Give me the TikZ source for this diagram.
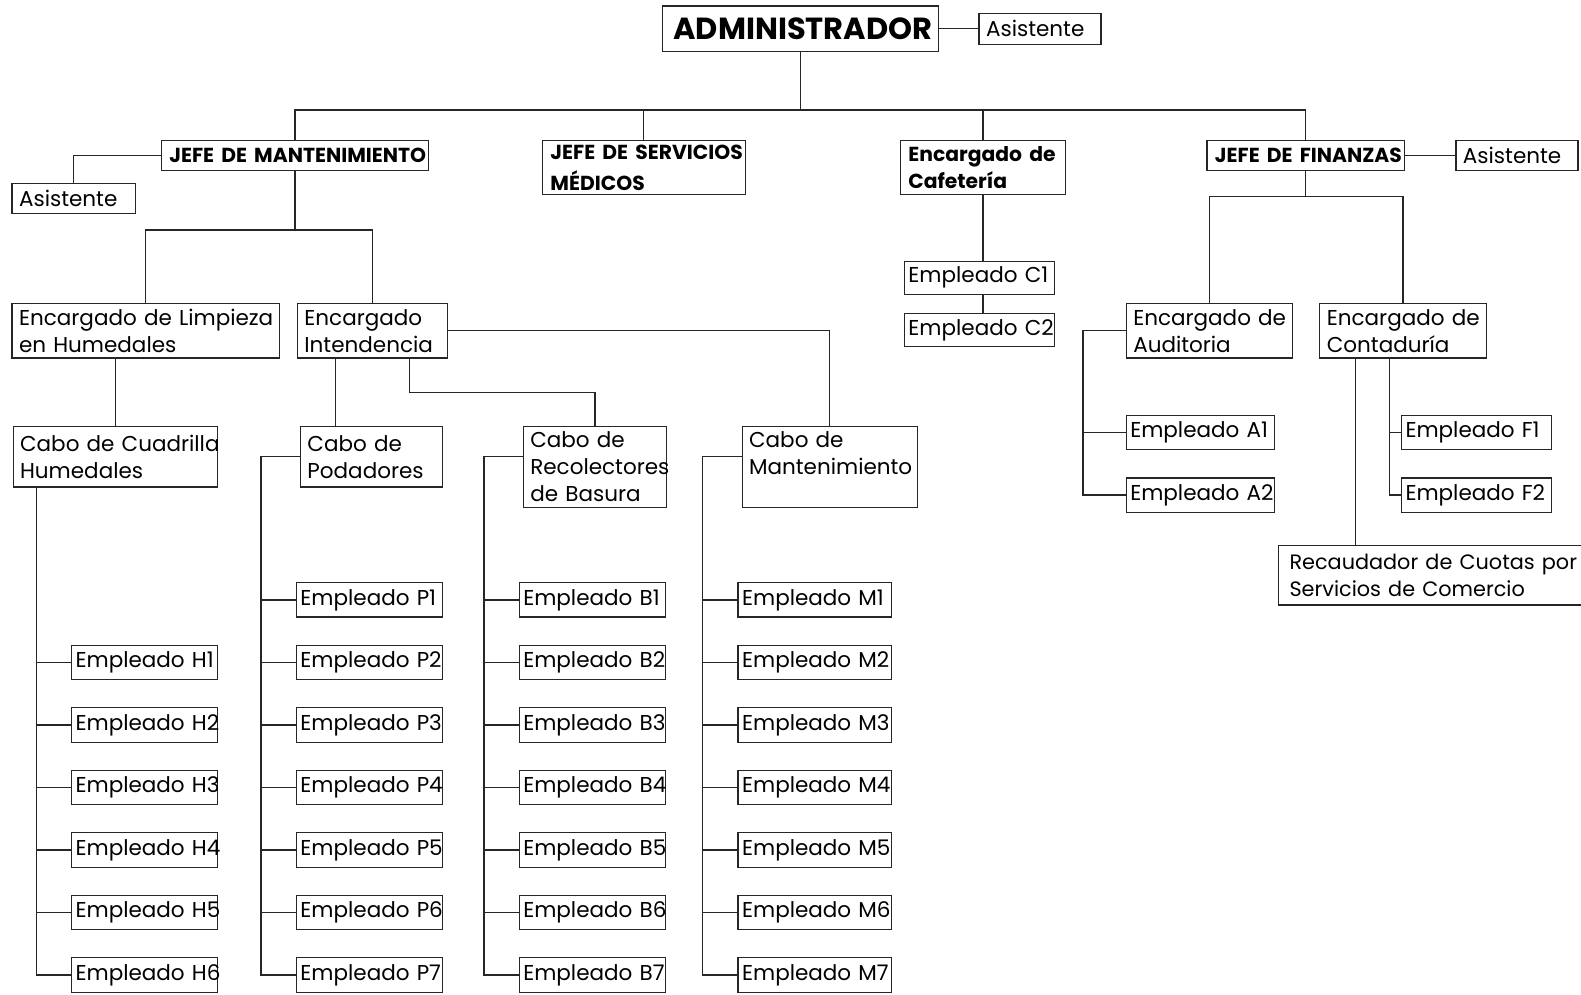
\documentclass[tikz,border=0pt]{standalone}
\usepackage{fontspec}
\setmainfont{Poppins}
\usetikzlibrary{calc}

\newcommand\unitscale{1.00829}
% \orgbox[padding]{name}{x1}{y1}{x2}{y2}{text}: a framed box given by its corners
\newcommand\orgbox[7][7]{%
  \pgfmathsetmacro\obw{(#5-#3)*\unitscale}%
  \pgfmathsetmacro\obh{(#6-#4)*\unitscale}%
  \pgfmathsetmacro\obt{\obw-2*#1}%
  \node[box,inner xsep=#1pt,minimum width=\obw pt,minimum height=\obh pt,
        text width=\obt pt] (#2) at ({(#3+#5)/2},{(#4+#6)/2}) {#7};}
% bold heading text
\newcommand\hd{\fontsize{20.3}{27}\selectfont\bfseries}

\tikzset{
  box/.style={draw=black!85,line width=1.2pt,fill=white,outer sep=0pt,
    inner ysep=0pt,align=left,font=\fontsize{21.5}{27}\selectfont},
  link/.style={draw=black!85,line width=1.3pt},
}

\begin{document}
\begin{tikzpicture}[x=1.00829pt,y=-1.00829pt]
\useasboundingbox (0,0) rectangle (1568,986);
\clip (0,0) rectangle (1568,986);
\fill[white] (0,0) rectangle (1568,986);

% top level
\orgbox[11]{admin}{657}{6}{931}{51}{\fontsize{30.5}{34}\selectfont\bfseries ADMINISTRADOR}
\orgbox{asisA}{971}{13}{1092}{44}{Asistente}

% heads
\orgbox[8]{jefeM}{160}{139}{425}{169}{\hd\mbox{JEFE DE MANTENIMIENTO}}
\orgbox{asisM}{12}{182}{134}{212}{Asistente}
\orgbox[8]{jefeS}{538}{139}{739}{193}{\fontsize{20.3}{31}\selectfont\bfseries\mbox{JEFE DE SERVICIOS}\\MÉDICOS\par}
\orgbox[8]{cafe}{893}{139}{1057}{193}{\hd\mbox{Encargado de}\\Cafetería}
\orgbox[8]{jefeF}{1197}{139}{1393}{169}{\hd\mbox{JEFE DE FINANZAS}}
\orgbox{asisF}{1444}{139}{1565}{169}{Asistente}

% maintenance branch
\orgbox{limp}{12}{301}{277}{355}{\mbox{Encargado de Limpieza}\\en Humedales}
\orgbox{inten}{295}{301}{444}{355}{Encargado\\Intendencia}
\orgbox{cuad}{13}{423}{216}{483}{\mbox{Cabo de Cuadrilla}\\Humedales}
\orgbox{poda}{298}{423}{439}{483}{Cabo de\\Podadores}
\orgbox{reco}{519}{423}{661}{503}{Cabo de\\Recolectores\\de Basura}
\orgbox{mant}{736}{423}{910}{503}{Cabo de\\Mantenimiento\\\mbox{}}

% employees
\foreach \k in {1,...,6}{
  \pgfmathsetmacro\ty{578+62*\k}
  \orgbox[4]{H\k}{71}{\ty}{216}{\ty+34}{\mbox{Empleado H\k}}
}
\foreach \k in {1,...,7}{
  \pgfmathsetmacro\ty{578+62*(\k-1)}
  \orgbox[4]{P\k}{294}{\ty}{439}{\ty+34}{\mbox{Empleado P\k}}
  \orgbox[4]{B\k}{515}{\ty}{660}{\ty+34}{\mbox{Empleado B\k}}
  \orgbox[4]{M\k}{732}{\ty}{884}{\ty+34}{\mbox{Empleado M\k}}
}

% cafeteria
\orgbox[4]{C1}{897}{259}{1046}{292}{\mbox{Empleado C1}}
\orgbox[4]{C2}{897}{311}{1046}{344}{\mbox{Empleado C2}}

% finance branch
\orgbox{aud}{1117}{301}{1282}{355}{\mbox{Encargado de}\\Auditoria}
\orgbox{cont}{1309}{301}{1474}{355}{\mbox{Encargado de}\\Contaduría}
\orgbox[4]{A1}{1117}{412}{1264}{446}{\mbox{Empleado A1}}
\orgbox[4]{A2}{1117}{474}{1264}{508}{\mbox{Empleado A2}}
\orgbox[4]{F1}{1390}{412}{1539}{446}{\mbox{Empleado F1}}
\orgbox[4]{F2}{1390}{474}{1539}{508}{\mbox{Empleado F2}}
\orgbox[11]{reca}{1268}{541}{1600}{600}{\fontsize{20.8}{27}\selectfont\mbox{Recaudador de Cuotas por}\\\mbox{Servicios de Comercio}\par}

% ---- connectors ----
\coordinate (busy) at (0,109);
\draw[link] (admin.south) -- (admin.south |- busy);
\draw[link] (jefeM.north) -- (jefeM.north |- busy) -- (jefeF.north |- busy) -- (jefeF.north);
\draw[link] (jefeS.north) -- (jefeS.north |- busy);
\draw[link] (cafe.north) -- (cafe.north |- busy);
\draw[link] (admin.east) -- (asisA.west);
\draw[link] (jefeF.east) -- (asisF.west);
\draw[link] (jefeM.west) -| (asisM.north);

% maintenance
\coordinate (my) at (0,228);
\draw[link] (jefeM.south) -- (jefeM.south |- my);
\draw[link] (limp.north) -- (limp.north |- my) -- (inten.north |- my) -- (inten.north);
\draw[link] (limp.south -| cuad.north) -- (cuad.north);
\coordinate (ip) at (333,0);
\draw[link] (inten.south -| ip) -- (poda.north -| ip);
\coordinate (ir) at (406,389);
\draw[link] (inten.south -| ir) -- (ir) -| (reco.north);
\draw[link] (inten.east) -| (mant.north);

% trunks to employees
\coordinate (tH) at (36,0);
\draw[link] (cuad.south -| tH) |- (H6.west);
\foreach \k in {1,...,5}{\draw[link] (H\k.west) -- (H\k.west -| tH);}
\coordinate (tP) at (259,0);
\draw[link] ($(poda.north west)+(0,30)$) coordinate (pp) -- (pp -| tP) |- (P7.west);
\coordinate (tB) at (480,0);
\draw[link] ($(reco.north west)+(0,30)$) coordinate (bb) -- (bb -| tB) |- (B7.west);
\coordinate (tM) at (697,0);
\draw[link] ($(mant.north west)+(0,30)$) coordinate (mm) -- (mm -| tM) |- (M7.west);
\foreach \k in {1,...,6}{
  \draw[link] (P\k.west) -- (P\k.west -| tP);
  \draw[link] (B\k.west) -- (B\k.west -| tB);
  \draw[link] (M\k.west) -- (M\k.west -| tM);
}

% cafeteria
\draw[link] (cafe.south) -- (cafe.south |- C1.north);
\draw[link] (C1.south -| cafe.south) -- (C2.north -| cafe.south);

% finance
\coordinate (fy) at (0,195);
\draw[link] (jefeF.south) -- (jefeF.south |- fy);
\draw[link] (aud.north) -- (aud.north |- fy) -- (cont.north |- fy) -- (cont.north);
\coordinate (tA) at (1074,0);
\draw[link] (aud.west) -- (aud.west -| tA) |- (A2.west);
\draw[link] (A1.west) -- (A1.west -| tA);
\coordinate (tF) at (1378,0);
\draw[link] (cont.south -| tF) |- (F2.west);
\draw[link] (F1.west) -- (F1.west -| tF);
\coordinate (tR) at (1344,0);
\draw[link] (cont.south -| tR) -- (reca.north -| tR);
\end{tikzpicture}
\end{document}
